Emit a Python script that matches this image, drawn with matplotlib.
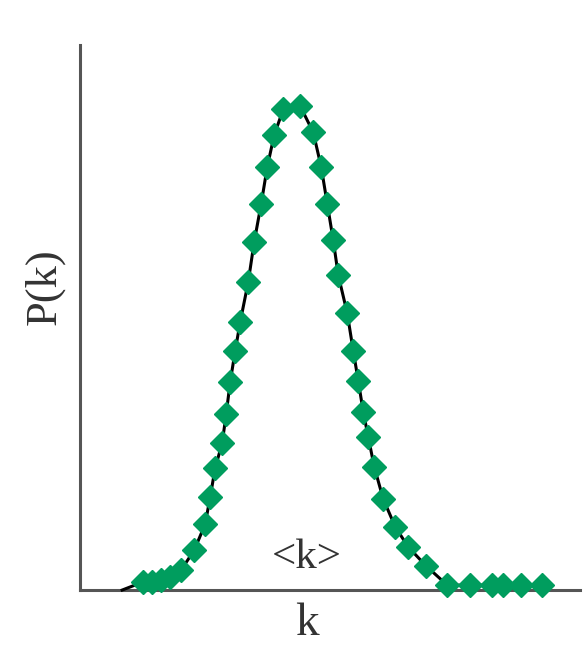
import matplotlib.pyplot as plt

# Degree distribution P(k) (arbitrary units)
k_values = [8.4, 12.6, 14.4, 16.2, 18.0, 20.2, 22.8, 25.0, 26.0, 27.0, 28.4,
            29.2, 30.0, 31.0, 32.0, 33.6, 34.8, 36.2, 37.4, 38.8, 40.6, 44.0,
            46.6, 48.2, 49.4, 50.6, 51.6, 53.4, 54.6, 55.6, 56.6, 57.6, 58.8,
            60.6, 63.0, 65.6, 69.2, 73.4, 78.0, 82.4, 84.6, 88.2, 92.4]
p_values = [0.0, 0.015, 0.015, 0.018, 0.024, 0.037, 0.073, 0.121, 0.171,
            0.224, 0.270, 0.323, 0.382, 0.439, 0.492, 0.565, 0.639, 0.709,
            0.776, 0.835, 0.882, 0.888, 0.840, 0.776, 0.709, 0.642, 0.578,
            0.508, 0.439, 0.384, 0.327, 0.281, 0.226, 0.167, 0.116, 0.079,
            0.044, 0.009, 0.009, 0.009, 0.009, 0.009, 0.009]

GREEN = "#009d5e"
TEXT = "#333333"

plt.rcParams["font.family"] = ["Liberation Serif", "DejaVu Serif"]

fig = plt.figure(figsize=(5.85, 6.63), dpi=100)
ax = fig.add_axes([0.137, 0.110, 0.855, 0.822])

# line through all points, markers skip the first (line-only) point
ax.plot(k_values, p_values, color="black", lw=2.2, zorder=3, clip_on=False)
ax.plot(k_values[1:], p_values[1:], ls="none", marker="D", ms=12,
        color=GREEN, mec=GREEN, zorder=4, clip_on=False)

ax.set_xlim(0, 100)
ax.set_ylim(0, 1)
ax.set_xticks([])
ax.set_yticks([])
for side in ["top", "right"]:
    ax.spines[side].set_visible(False)
for side in ["left", "bottom"]:
    ax.spines[side].set_color("#555555")
    ax.spines[side].set_linewidth(2.2)

# axis labels placed by hand, as in the original sketch
ax.text(45.4, -0.083, "k", fontsize=34, color=TEXT, ha="center",
        va="baseline", clip_on=False)
ax.text(-0.072, 0.556, "P(k)", fontsize=32, color=TEXT, rotation=90,
        ha="center", va="center", transform=ax.transAxes)
ax.text(45.4, 0.040, "<k>", fontsize=31, color=TEXT, ha="center",
        va="baseline")

fig.savefig("out.png", dpi=100)
